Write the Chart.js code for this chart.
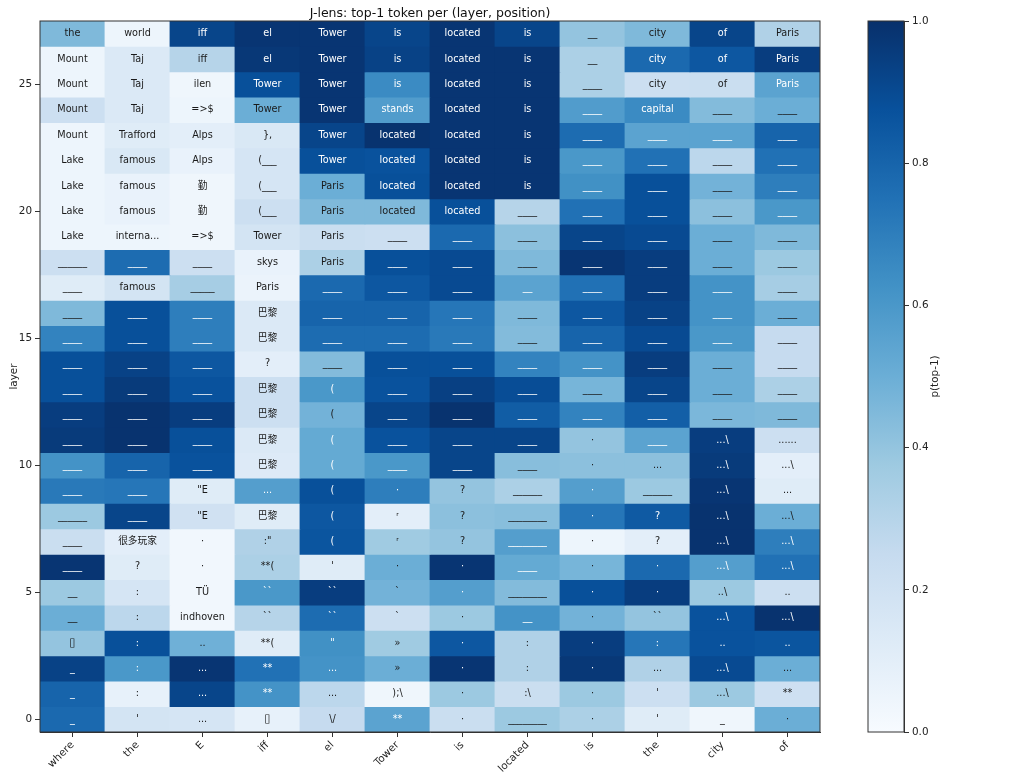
<!DOCTYPE html>
<html>
<head>
<meta charset="utf-8">
<title>J-lens heatmap</title>
<script src="https://cdn.jsdelivr.net/npm/chart.js@4.4.1/dist/chart.umd.min.js"></script>
<style>
  html, body { margin: 0; padding: 0; background: #fff; }
  #wrap { position: relative; width: 1024px; height: 783px; }
  #main { position: absolute; left: 0; top: 0; width: 840px; height: 783px; }
  #cbar { position: absolute; left: 840px; top: 0; width: 184px; height: 783px; }
</style>
</head>
<body>
<div id="wrap">
  <div id="main"><canvas id="heat"></canvas></div>
  <div id="cbar"><canvas id="bar"></canvas></div>
</div>
<script>
var chartTitle = 'J-lens: top-1 token per (layer, position)';
var positions = ['where', 'the', 'E', 'iff', 'el', 'Tower', 'is', 'located', 'is', 'the', 'city', 'of'];
var topLayer = 27;
var layerTicks = [0, 5, 10, 15, 20, 25];
var cbarTicks = [0, 0.2, 0.4, 0.6, 0.8, 1.0];

// rows listed from layer 27 (top) down to layer 0
var tokenRows = [
  ['the', 'world', 'iff', 'el', 'Tower', 'is', 'located', 'is', '__', 'city', 'of', 'Paris'],
  ['Mount', 'Taj', 'iff', 'el', 'Tower', 'is', 'located', 'is', '__', 'city', 'of', 'Paris'],
  ['Mount', 'Taj', 'ilen', 'Tower', 'Tower', 'is', 'located', 'is', '____', 'city', 'of', 'Paris'],
  ['Mount', 'Taj', '=>$', 'Tower', 'Tower', 'stands', 'located', 'is', '____', 'capital', '____', '____'],
  ['Mount', 'Trafford', 'Alps', '},', 'Tower', 'located', 'located', 'is', '____', '____', '____', '____'],
  ['Lake', 'famous', 'Alps', '(___', 'Tower', 'located', 'located', 'is', '____', '____', '____', '____'],
  ['Lake', 'famous', '勤', '(___', 'Paris', 'located', 'located', 'is', '____', '____', '____', '____'],
  ['Lake', 'famous', '勤', '(___', 'Paris', 'located', 'located', '____', '____', '____', '____', '____'],
  ['Lake', 'interna...', '=>$', 'Tower', 'Paris', '____', '____', '____', '____', '____', '____', '____'],
  ['______', '____', '____', 'skys', 'Paris', '____', '____', '____', '____', '____', '____', '____'],
  ['____', 'famous', '_____', 'Paris', '____', '____', '____', '__', '____', '____', '____', '____'],
  ['____', '____', '____', '巴黎', '____', '____', '____', '____', '____', '____', '____', '____'],
  ['____', '____', '____', '巴黎', '____', '____', '____', '____', '____', '____', '____', '____'],
  ['____', '____', '____', '?', '____', '____', '____', '____', '____', '____', '____', '____'],
  ['____', '____', '____', '巴黎', '(', '____', '____', '____', '____', '____', '____', '____'],
  ['____', '____', '____', '巴黎', '(', '____', '____', '____', '____', '____', '____', '____'],
  ['____', '____', '____', '巴黎', '(', '____', '____', '____', '·', '____', '...\\', '......'],
  ['____', '____', '____', '巴黎', '(', '____', '____', '____', '·', '...', '...\\', '...\\'],
  ['____', '____', '"E', '...', '(', '·', '?', '______', '·', '______', '...\\', '...'],
  ['______', '____', '"E', '巴黎', '(', 'ʳ', '?', '________', '·', '?', '...\\', '...\\'],
  ['____', '很多玩家', '·', ':"', '(', 'ʳ', '?', '________', '·', '?', '...\\', '...\\'],
  ['____', '?', '·', '**(', "'", '·', '·', '____', '·', '·', '...\\', '...\\'],
  ['__', ':', 'TÜ', '``', '``', '`', '·', '________', '·', '·', '..\\', '..'],
  ['__', ':', 'indhoven', '``', '``', '`', '·', '__', '·', '``', '...\\', '...\\'],
  ['▯', ':', '..', '**(', '"', '»', '·', ':', '·', ':', '..', '..'],
  ['_', ':', '...', '**', '...', '»', '·', ':', '·', '...', '...\\', '...'],
  ['_', ':', '...', '**', '...', ');\\', '·', ':\\', '·', "'", '...\\', '**'],
  ['_', "'", '...', '▯', '\\/', '**', '·', '________', '·', "'", '_', '·']
];

var probRows = [
  [0.45, 0.05, 0.92, 0.98, 0.98, 0.92, 0.98, 0.92, 0.40, 0.45, 0.92, 0.32],
  [0.05, 0.14, 0.30, 0.97, 0.98, 0.93, 0.98, 0.98, 0.33, 0.78, 0.85, 0.95],
  [0.05, 0.14, 0.04, 0.88, 0.98, 0.65, 0.98, 0.98, 0.33, 0.22, 0.23, 0.55],
  [0.22, 0.14, 0.05, 0.50, 0.98, 0.58, 0.98, 0.98, 0.58, 0.65, 0.44, 0.50],
  [0.05, 0.12, 0.10, 0.15, 0.92, 0.99, 0.98, 0.98, 0.77, 0.55, 0.55, 0.80],
  [0.05, 0.15, 0.07, 0.17, 0.88, 0.87, 0.98, 0.98, 0.60, 0.75, 0.28, 0.75],
  [0.05, 0.07, 0.04, 0.17, 0.50, 0.88, 0.98, 0.98, 0.63, 0.88, 0.48, 0.70],
  [0.05, 0.07, 0.04, 0.22, 0.45, 0.45, 0.88, 0.30, 0.75, 0.88, 0.42, 0.60],
  [0.05, 0.05, 0.04, 0.18, 0.23, 0.22, 0.78, 0.42, 0.92, 0.90, 0.50, 0.45],
  [0.22, 0.77, 0.22, 0.07, 0.33, 0.88, 0.90, 0.45, 0.98, 0.95, 0.50, 0.38],
  [0.12, 0.18, 0.35, 0.06, 0.78, 0.85, 0.90, 0.55, 0.75, 0.95, 0.62, 0.35],
  [0.45, 0.88, 0.70, 0.14, 0.80, 0.80, 0.73, 0.45, 0.85, 0.93, 0.62, 0.50],
  [0.68, 0.88, 0.70, 0.14, 0.77, 0.77, 0.72, 0.44, 0.80, 0.90, 0.60, 0.25],
  [0.88, 0.93, 0.85, 0.10, 0.44, 0.88, 0.88, 0.68, 0.62, 0.95, 0.50, 0.25],
  [0.88, 0.96, 0.87, 0.22, 0.60, 0.87, 0.94, 0.89, 0.47, 0.92, 0.50, 0.33],
  [0.95, 0.99, 0.95, 0.22, 0.48, 0.92, 0.99, 0.83, 0.68, 0.82, 0.46, 0.45],
  [0.96, 0.99, 0.88, 0.14, 0.52, 0.87, 0.92, 0.92, 0.40, 0.55, 0.95, 0.22],
  [0.62, 0.80, 0.87, 0.13, 0.52, 0.60, 0.92, 0.43, 0.42, 0.42, 0.96, 0.10],
  [0.72, 0.73, 0.12, 0.57, 0.88, 0.70, 0.40, 0.33, 0.57, 0.38, 0.98, 0.12],
  [0.38, 0.92, 0.20, 0.12, 0.85, 0.10, 0.42, 0.43, 0.73, 0.84, 0.99, 0.50],
  [0.23, 0.10, 0.03, 0.32, 0.86, 0.37, 0.40, 0.57, 0.05, 0.10, 0.99, 0.70],
  [0.98, 0.12, 0.03, 0.33, 0.12, 0.50, 0.98, 0.52, 0.47, 0.78, 0.57, 0.75],
  [0.38, 0.17, 0.03, 0.60, 0.95, 0.48, 0.57, 0.44, 0.88, 0.95, 0.38, 0.22],
  [0.50, 0.28, 0.03, 0.30, 0.77, 0.22, 0.38, 0.62, 0.48, 0.40, 0.87, 0.99],
  [0.40, 0.88, 0.49, 0.12, 0.63, 0.37, 0.85, 0.32, 0.95, 0.73, 0.87, 0.86],
  [0.93, 0.60, 0.98, 0.75, 0.62, 0.50, 0.98, 0.32, 0.97, 0.32, 0.90, 0.50],
  [0.80, 0.08, 0.92, 0.62, 0.28, 0.04, 0.38, 0.23, 0.38, 0.22, 0.38, 0.21],
  [0.78, 0.18, 0.17, 0.08, 0.25, 0.55, 0.23, 0.38, 0.33, 0.12, 0.04, 0.50]
];

// matplotlib "Blues"
var bluesStops = ['#f7fbff', '#deebf7', '#c6dbef', '#9ecae1', '#6baed6', '#4292c6', '#2171b5', '#08519c', '#08306b'];

function hexRgb(h) {
  return [parseInt(h.substr(1, 2), 16), parseInt(h.substr(3, 2), 16), parseInt(h.substr(5, 2), 16)];
}

function blues(p) {
  var n = bluesStops.length;
  var t = Math.max(0, Math.min(1, p)) * (n - 1);
  var k = Math.min(Math.floor(t), n - 2);
  var f = t - k;
  var a = hexRgb(bluesStops[k]);
  var b = hexRgb(bluesStops[k + 1]);
  var c = [0, 1, 2].map(function(i) { return Math.round(a[i] + (b[i] - a[i]) * f); });
  return 'rgb(' + c.join(',') + ')';
}

var fontFamily = "'DejaVu Sans', 'Noto Sans CJK SC', sans-serif";
var ink = '#222';
Chart.defaults.font.family = fontFamily;
Chart.defaults.color = ink;

var datasets = [];
for (var i = 0; i < tokenRows.length; i++) {
  var layer = topLayer - i;
  datasets.push({
    label: 'layer ' + layer,
    data: probRows[i].map(function() { return [this - 0.5, this + 0.5]; }, layer),
    backgroundColor: probRows[i].map(blues),
    borderWidth: 0,
    inflateAmount: 0.4,
    grouped: false,
    barPercentage: 1,
    categoryPercentage: 1
  });
}

var cellText = {
  id: 'cellText',
  afterDatasetsDraw: function(chart) {
    var ctx = chart.ctx;
    var xs = chart.scales.x;
    var ys = chart.scales.y;
    var a = chart.chartArea;
    ctx.save();
    ctx.textAlign = 'center';
    ctx.textBaseline = 'middle';
    for (var i = 0; i < tokenRows.length; i++) {
      var layer = topLayer - i;
      for (var j = 0; j < tokenRows[i].length; j++) {
        var tok = tokenRows[i][j];
        // missing-glyph box is drawn a bit taller, like matplotlib's tofu
        ctx.font = (tok === '▯' ? '11.5px ' : '9.7px ') + fontFamily;
        ctx.fillStyle = probRows[i][j] > 0.5 ? '#ffffff' : '#1a1a1a';
        ctx.fillText(tok, xs.getPixelForValue(j), ys.getPixelForValue(layer));
      }
    }
    ctx.strokeStyle = '#333';
    ctx.lineWidth = 1;
    ctx.strokeRect(a.left, a.top, a.right - a.left, a.bottom - a.top);
    ctx.font = '12.5px ' + fontFamily;
    ctx.fillStyle = '#111';
    ctx.textBaseline = 'alphabetic';
    ctx.fillText(chartTitle, (a.left + a.right) / 2, 17);
    ctx.restore();
  }
};

new Chart(document.getElementById('heat'), {
  type: 'bar',
  data: { labels: positions, datasets: datasets },
  options: {
    responsive: true,
    maintainAspectRatio: false,
    animation: false,
    layout: { padding: { left: 0, right: 20, top: 21, bottom: 0 } },
    plugins: { legend: { display: false }, tooltip: { enabled: false }, title: { display: false } },
    scales: {
      x: {
        type: 'category',
        offset: true,
        grid: { display: true, drawOnChartArea: false, drawTicks: true, tickLength: 5, color: '#333', offset: false },
        border: { display: true, color: '#333', width: 1 },
        ticks: { autoSkip: false, minRotation: 45, maxRotation: 45, padding: 2, color: ink, font: { size: 10.4 } },
        afterFit: function(s) { s.height = 51; s.paddingLeft = 0; s.paddingRight = 0; }
      },
      y: {
        type: 'linear',
        min: -0.5,
        max: topLayer + 0.5,
        afterBuildTicks: function(s) { s.ticks = layerTicks.map(function(v) { return { value: v }; }); },
        grid: { display: true, drawOnChartArea: false, drawTicks: true, tickLength: 5, color: '#333' },
        border: { display: true, color: '#333', width: 1 },
        ticks: { padding: 3, color: ink, font: { size: 10.4 } },
        title: { display: true, text: 'layer', color: ink, font: { size: 10.4 }, padding: { top: 8, bottom: 0 } },
        afterFit: function(s) { s.width = 40; s.paddingTop = 0; s.paddingBottom = 0; }
      }
    }
  },
  plugins: [cellText]
});

var cbarDecor = {
  id: 'cbarDecor',
  afterDraw: function(chart) {
    var ctx = chart.ctx;
    var a = chart.chartArea;
    ctx.save();
    ctx.strokeStyle = '#333';
    ctx.lineWidth = 1;
    ctx.strokeRect(a.left, a.top, a.right - a.left, a.bottom - a.top);
    ctx.translate(95.5, (a.top + a.bottom) / 2);
    ctx.rotate(-Math.PI / 2);
    ctx.font = '10.4px ' + fontFamily;
    ctx.fillStyle = ink;
    ctx.textAlign = 'center';
    ctx.textBaseline = 'middle';
    ctx.fillText('p(top-1)', 0, 0);
    ctx.restore();
  }
};

new Chart(document.getElementById('bar'), {
  type: 'bar',
  data: {
    labels: [''],
    datasets: [{
      data: [[cbarTicks[0], cbarTicks[cbarTicks.length - 1]]],
      backgroundColor: function(c) {
        var a = c.chart.chartArea;
        if (!a) return bluesStops[4];
        var g = c.chart.ctx.createLinearGradient(0, a.bottom, 0, a.top);
        for (var k = 0; k < bluesStops.length; k++) g.addColorStop(k / (bluesStops.length - 1), bluesStops[k]);
        return g;
      },
      borderWidth: 0,
      barPercentage: 1,
      categoryPercentage: 1
    }]
  },
  options: {
    responsive: true,
    maintainAspectRatio: false,
    animation: false,
    layout: { padding: { left: 28, right: 0, top: 21, bottom: 51 } },
    plugins: { legend: { display: false }, tooltip: { enabled: false } },
    scales: {
      x: { display: false },
      y: {
        position: 'right',
        min: 0,
        max: 1,
        afterBuildTicks: function(s) { s.ticks = cbarTicks.map(function(v) { return { value: v }; }); },
        grid: { display: true, drawOnChartArea: false, drawTicks: true, tickLength: 5, color: '#333' },
        border: { display: true, color: '#333', width: 1 },
        ticks: { padding: 3, color: ink, font: { size: 10.4 }, callback: function(v) { return Number(v).toFixed(1); } },
        afterFit: function(s) { s.width = 120; s.paddingTop = 0; s.paddingBottom = 0; }
      }
    }
  },
  plugins: [cbarDecor]
});
</script>
</body>
</html>
